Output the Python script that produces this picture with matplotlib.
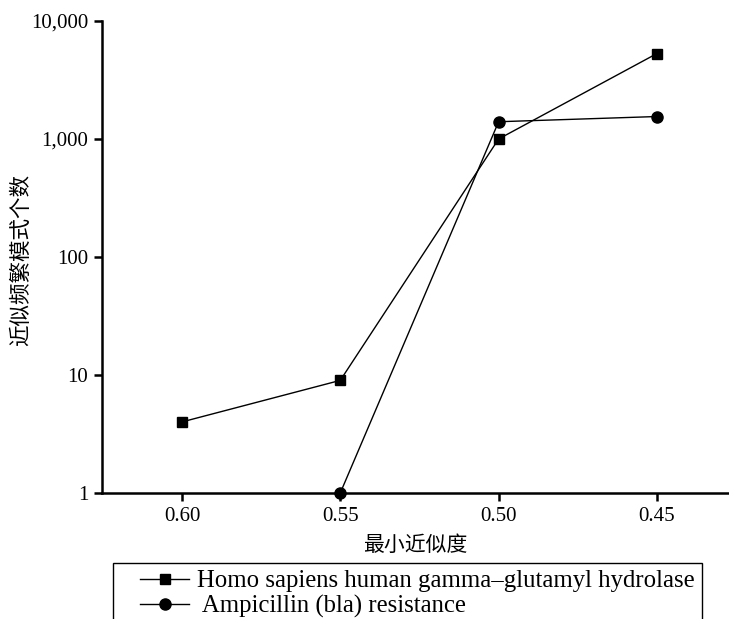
import numpy as np
import matplotlib.pyplot as plt
from matplotlib.patches import Rectangle
from matplotlib.ticker import FixedLocator, FixedFormatter, NullLocator

# data
similarity = ["0.60", "0.55", "0.50", "0.45"]
homo_counts = [4, 9, 1000, 5300]
bla_counts = [np.nan, 1, 1400, 1550]
series_names = ["Homo sapiens human gamma\u2013glutamyl hydrolase",
                " Ampicillin (bla) resistance"]
y_ticks = [1, 10, 100, 1000, 10000]
y_tick_labels = ["1", "10", "100", "1,000", "10,000"]

fonts = ["Liberation Serif", "Noto Sans CJK SC"]
plt.rcParams["font.family"] = fonts

fig = plt.figure(figsize=(7.29, 6.19), dpi=100)
ax = fig.add_axes([0.1399, 0.2036, 0.8601, 0.7625])

x = np.arange(len(similarity))
h1, = ax.plot(x, homo_counts, color="black", lw=1.0, marker="s",
              markersize=7.5, clip_on=False, zorder=3)
h2, = ax.plot(x, bla_counts, color="black", lw=1.0, marker="o",
              markersize=8, clip_on=False, zorder=3)

ax.set_yscale("log")
ax.set_ylim(1, 10000)
ax.yaxis.set_major_locator(FixedLocator(y_ticks))
ax.yaxis.set_major_formatter(FixedFormatter(y_tick_labels))
ax.yaxis.set_minor_locator(NullLocator())
ax.set_xlim(-0.505, 3.455)
ax.set_xticks(x)
ax.set_xticklabels(similarity)

for side in ["top", "right"]:
    ax.spines[side].set_visible(False)
for side in ["left", "bottom"]:
    ax.spines[side].set_linewidth(1.8)
ax.tick_params(axis="both", direction="out", length=6, width=1.8,
               labelsize=15, pad=4)

ax.set_xlabel("最小近似度", fontsize=15, family=["Noto Sans CJK SC"], labelpad=6)
ax.set_ylabel("近似频繁模式个数", fontsize=15.5, family=["Noto Sans CJK SC"])
ax.yaxis.set_label_coords(-0.112, 0.494)

# legend box runs off the bottom edge, as in the reference
frame = Rectangle((113 / 729, -0.05), (702 - 113) / 729, (1 - 563 / 619) + 0.05,
                  transform=fig.transFigure, fill=False, edgecolor="black", lw=1.0)
fig.patches.append(frame)

leg = fig.legend([h1, h2], series_names, loc="upper left",
                 bbox_to_anchor=(140 / 729, 1 - 570 / 619),
                 frameon=False, fontsize=17.8,
                 handlelength=2.0, handletextpad=0.3, labelspacing=0.1,
                 borderpad=0, borderaxespad=0)

fig.savefig("out.png", dpi=100)
